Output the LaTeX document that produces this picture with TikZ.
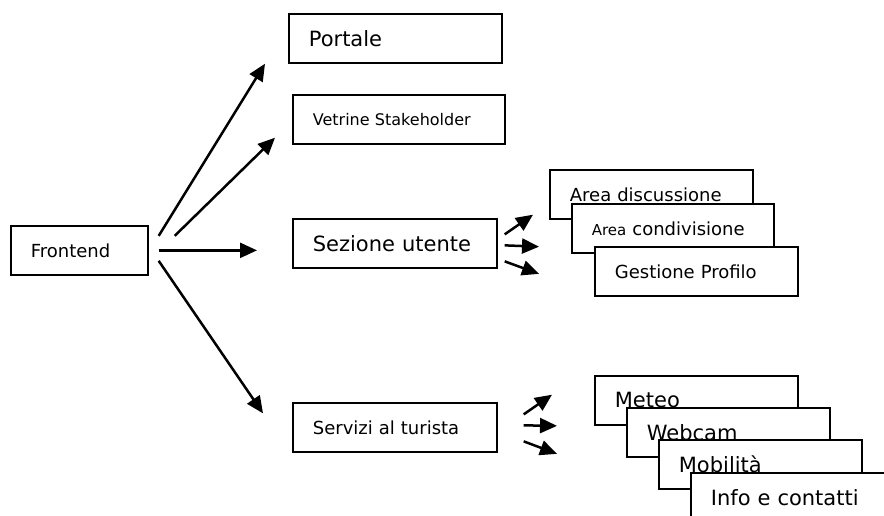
\documentclass[tikz,border=0pt]{standalone}
\usepackage{fontspec}
\setmainfont{DejaVu Sans}
\usetikzlibrary{arrows.meta}

\begin{document}
\begin{tikzpicture}[x=1pt, y=-1pt,
    box/.style={draw, fill=white, line width=1.7pt, anchor=north west, align=left,
        inner xsep=20pt, inner ysep=0pt, minimum height=49pt},
    big/.style={font=\fontsize{21}{25}\selectfont},
    mid/.style={font=\fontsize{18}{22}\selectfont},
    small/.style={font=\fontsize{16}{19}\selectfont},
    arr/.style={line width=2.5pt, -{Triangle[length=17pt, width=15pt]}}]
    \clip (0,0) rectangle (884,515);
    % Main boxes
    \node[box, mid, text width=97pt] (frontend) at (10,225) {Frontend};
    \node[box, big, text width=173pt] (portale) at (288,13) {Portale};
    \node[box, small, text width=172pt] (vetrine) at (292,94) {Vetrine Stakeholder};
    \node[box, big, text width=164pt] (sezione) at (292,218) {Sezione utente};
    \node[box, mid, text width=164pt] (servizi) at (292,402) {Servizi al turista};
    % User section stack
    \node[box, mid, text width=163pt] (discussione) at (549,169) {Area discussione};
    \node[box, mid, text width=162pt] (condivisione) at (571,203) {{\fontsize{15}{18}\selectfont Area} condivisione};
    \node[box, mid, text width=163pt] (profilo) at (594,246) {Gestione Profilo};
    % Tourist services stack
    \node[box, big, text width=163pt] (meteo) at (594,375) {Meteo};
    \node[box, big, text width=163pt] (webcam) at (626,407) {Webcam};
    \node[box, big, text width=163pt] (mobilita) at (658,439) {Mobilità};
    \node[box, big, text width=163pt] (info) at (690,472) {Info e contatti};
    % Arrows from Frontend
    \draw[arr] ([shift={(10,-14.5)}]frontend.east) -- ([shift={(-23,0)}]portale.south west);
    \draw[arr] ([shift={(26,-14.5)}]frontend.east) -- ([shift={(-17,-7)}]vetrine.south west);
    \draw[arr] ([shift={(10,0)}]frontend.east) -- ([shift={(-35,0)}]sezione.west |- frontend.east);
    \draw[arr] ([shift={(10,10.5)}]frontend.east) -- ([shift={(-29,-14)}]servizi.west);
    % Small arrows
    \draw[arr] ([shift={(7,-9)}]sezione.east) -- ([shift={(-16,-5)}]discussione.south west);
    \draw[arr] ([shift={(7,2)}]sezione.east) -- ([shift={(-32,-7)}]condivisione.south west);
    \draw[arr] ([shift={(7,18)}]sezione.east) -- ([shift={(-55,2.5)}]profilo.west);
    \draw[arr] ([shift={(26,-13)}]servizi.east) -- ([shift={(-42,-31)}]meteo.south west);
    \draw[arr] ([shift={(26,-2)}]servizi.east) -- ([shift={(-69,-6.5)}]webcam.west);
    \draw[arr] ([shift={(26,14)}]servizi.east) -- ([shift={(-101,-10.5)}]mobilita.west);
\end{tikzpicture}
\end{document}
